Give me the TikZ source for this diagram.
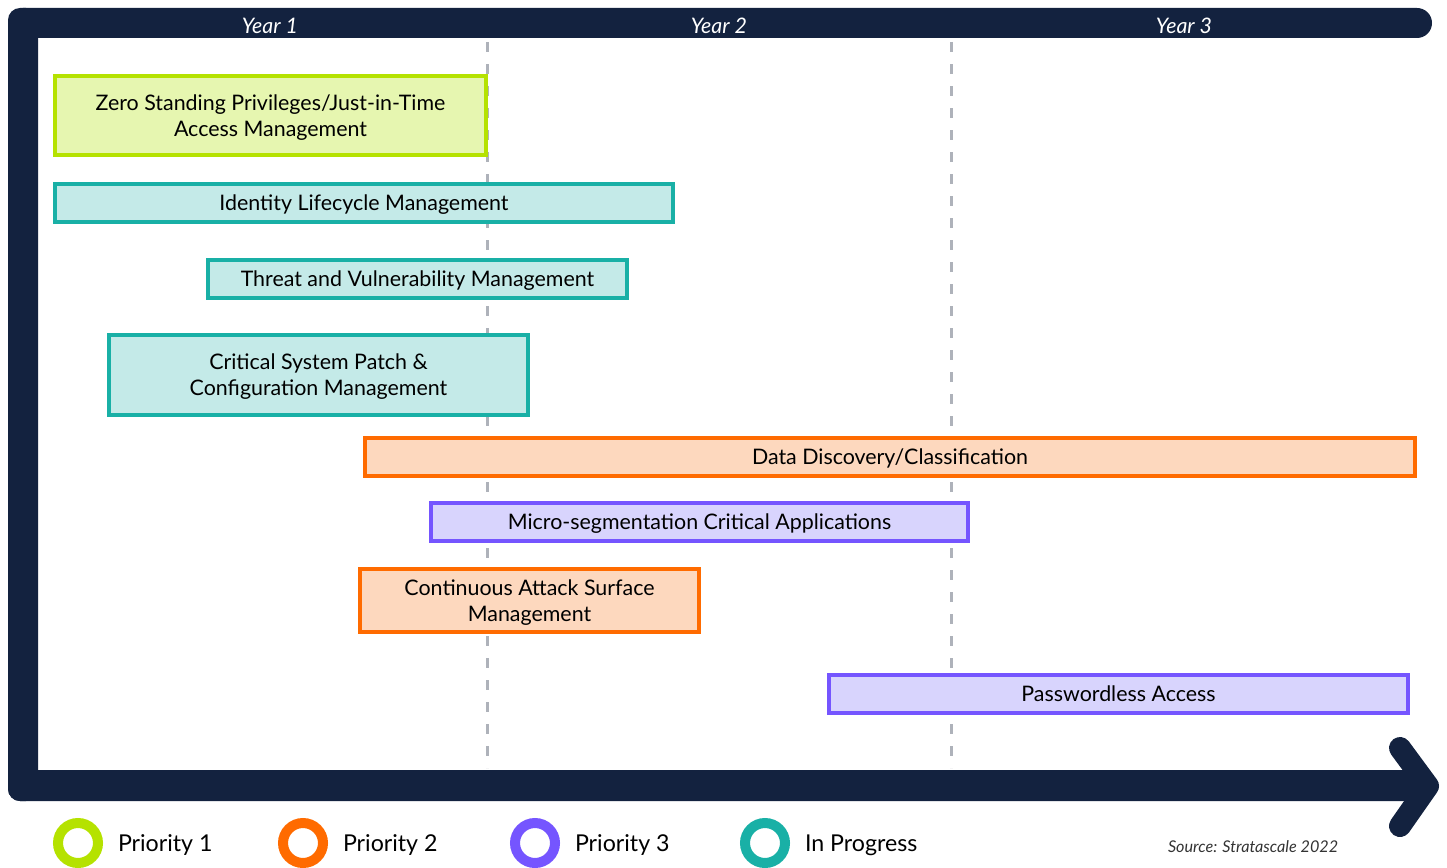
\documentclass[tikz,border=0pt]{standalone}
\usepackage{fontspec}
\setmainfont{Lato}
\begin{document}
\begin{tikzpicture}[x=1pt,y=-1pt,
  every node/.style={inner sep=0pt, outer sep=0pt},
  bar/.style={draw, line width=4pt, align=center, text depth=0pt, font=\fontsize{21.4}{26}\selectfont, text=black},
  lime/.style={bar, draw=limeB, fill=limeF},
  teal/.style={bar, draw=tealB, fill=tealF},
  orng/.style={bar, draw=orngB, fill=orngF},
  purp/.style={bar, draw=purpB, fill=purpF},
  ring/.style={draw=#1, line width=10pt, circle, minimum size=40pt},
  legtext/.style={anchor=west, font=\fontsize{23.2}{26}\selectfont, text=black},
  yearlbl/.style={font=\fontsize{21.4}{24}\selectfont\itshape, text=white},
  gridline/.style={draw=gridG, line width=3pt, dash pattern=on 10pt off 12pt}
]
\definecolor{navy}{HTML}{13223F}
\definecolor{gridG}{HTML}{AEB2BA}
\definecolor{limeB}{HTML}{B5E200}
\definecolor{limeF}{HTML}{E6F6B0}
\definecolor{tealB}{HTML}{19B0A6}
\definecolor{tealF}{HTML}{C4EAE8}
\definecolor{orngB}{HTML}{FF6B00}
\definecolor{orngF}{HTML}{FDD8BE}
\definecolor{purpB}{HTML}{7555FF}
\definecolor{purpF}{HTML}{D8D4FD}

\useasboundingbox (0,0) rectangle (1447,867);

% timeline frame: top band, left band, bottom arrow
\fill[navy, rounded corners=15pt] (8,8) rectangle (1432,38);
\fill[navy, rounded corners=12pt] (8,8) rectangle (38,801);
\fill[navy, rounded corners=12pt] (8,770) rectangle (1426,801);
\draw[navy, line width=22pt, line cap=round, line join=round]
  (1400,748) -- (1428,786) -- (1400,826);

% year labels
\node[yearlbl] (y1) at (270,25.5) {Year 1};
\node[yearlbl] (y2) at (719,25.5) {Year 2};
\node[yearlbl] (y3) at (1184,25.5) {Year 3};

% year boundaries
\coordinate (g1t) at (487,42);
\coordinate (g1b) at (487,768);
\coordinate (g2t) at (951,42);
\coordinate (g2b) at (951,768);
\draw[gridline] (g1t) -- (g1b);
\draw[gridline] (g2t) -- (g2b);

% initiatives
\node[lime, minimum width=431pt, minimum height=79pt] (zsp) at (270.5,115.5)
  {Zero Standing Privileges/Just-in-Time\\Access Management};
\node[teal, minimum width=618pt, minimum height=38pt] (ilm) at (364,203)
  {Identity Lifecycle Management};
\node[teal, minimum width=419pt, minimum height=38pt] (tvm) at (417.5,279)
  {Threat and Vulnerability Management};
\node[teal, minimum width=419pt, minimum height=80pt] (csp) at (318.5,375)
  {Critical System Patch \&\\Configuration Management};
\node[orng, minimum width=1050pt, minimum height=38pt] (ddc) at (890,457)
  {Data Discovery/Classification};
\node[purp, minimum width=537pt, minimum height=38pt] (msg) at (699.5,522)
  {Micro-segmentation Critical Applications};
\node[orng, minimum width=339pt, minimum height=63pt] (cas) at (529.5,600.5)
  {Continuous Attack Surface\\Management};
\node[purp, minimum width=579pt, minimum height=38pt] (pwl) at (1118.5,694)
  {Passwordless Access};

% legend
\node[ring=limeB] (l1) at (78,843) {};
\node[legtext] (t1) at (118,845) {Priority 1};
\node[ring=orngB] (l2) at (303,843) {};
\node[legtext] (t2) at (343,845) {Priority 2};
\node[ring=purpB] (l3) at (535,843) {};
\node[legtext] (t3) at (575,845) {Priority 3};
\node[ring=tealB] (l4) at (765,843) {};
\node[legtext] (t4) at (805,845) {In Progress};

\node[anchor=west, font=\fontsize{16.2}{18}\selectfont\itshape, text=black!80] (src) at (1168,847)
  {Source: Stratascale 2022};
\end{tikzpicture}
\end{document}
